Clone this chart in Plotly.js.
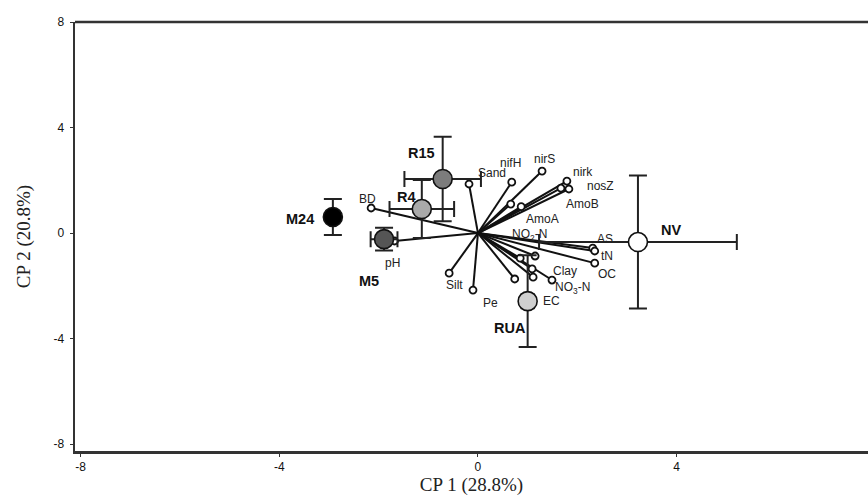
<!DOCTYPE html>
<html>
<head>
<meta charset="utf-8">
<script src="https://cdn.plot.ly/plotly-3.0.1.min.js"></script>
<style>html,body{margin:0;padding:0;background:#fff;}#chart{width:868px;height:497px;}</style>
</head>
<body>
<div id="chart"></div>
<script>
// ---- Sample scores (group means with standard errors) ----
var sampleNames = ["M24", "M5", "R4", "R15", "NV", "RUA"];
var sampleX = [-2.92, -1.89, -1.13, -0.71, 3.22, 1.00];
var sampleY = [0.61, -0.23, 0.91, 2.05, -0.34, -2.58];
var sampleErrX = [0, 0.27, 0.65, 0.77, 1.99, 0.12];
var sampleErrY = [0.68, 0.43, 1.10, 1.60, 2.52, 1.74];
var sampleColors = ["#000000", "#555555", "#a9a9a9", "#7c7c7c", "#ffffff", "#cfcfcf"];
var sampleLabelX = [-3.58, -2.19, -1.43, -1.13, 3.88, 0.64];
var sampleLabelY = [0.53, -1.82, 1.36, 3.03, 0.11, -3.61];

// ---- Variable loadings (vector tips) ----
var vecNames = ["BD", "Sand", "nifH", "nirS", "nirk", "nosZ", "AmoB", "AmoA", "nifH-b",
                "pH", "AS", "tN", "OC", "NO2-N", "v15", "Clay", "EC", "NO3-N", "v19", "Silt", "Pe"];
var vecX = [-2.15, -0.18, 0.68, 1.29, 1.79, 1.83, 1.67, 0.87, 0.66,
            -1.68, 2.31, 2.35, 2.35, 1.15, 0.85, 1.09, 1.11, 1.49, 0.74, -0.58, -0.10];
var vecY = [0.95, 1.86, 1.93, 2.35, 1.97, 1.67, 1.70, 1.00, 1.10,
            -0.30, -0.57, -0.68, -1.14, -0.87, -0.95, -1.36, -1.67, -1.78, -1.74, -1.52, -2.16];

// ---- Variable label texts and their positions ----
var labelText = ["BD", "Sand", "nifH", "nirS", "nirk", "nosZ", "AmoB", "AmoA", "NO<sub>2</sub>-N",
                 "AS", "tN", "OC", "Clay", "NO<sub>3</sub>-N", "EC", "Pe", "Silt", "pH"];
var labelX = [-2.23, 0.28, 0.66, 1.33, 2.11, 2.47, 2.11, 1.29, 1.03,
              2.56, 2.60, 2.60, 1.75, 1.91, 1.47, 0.26, -0.48, -1.71];
var labelY = [1.29, 2.27, 2.65, 2.80, 2.31, 1.78, 1.10, 0.53, -0.06,
              -0.23, -0.87, -1.55, -1.44, -2.08, -2.58, -2.65, -1.97, -1.14];

// ---- Axes ----
var tickVals = [-8, -4, 0, 4, 8];
var tickText = ["-8", "-4", "0", "4", "8"];

var lineX = [], lineY = [];
for (var i = 0; i < vecX.length; i++) {
  lineX.push(0, vecX[i], null);
  lineY.push(0, vecY[i], null);
}

var traces = [
  {
    type: "scatter", mode: "lines", x: lineX, y: lineY,
    line: {color: "#111", width: 2}, hoverinfo: "skip", showlegend: false
  },
  {
    type: "scatter", mode: "markers", x: vecX, y: vecY, text: vecNames,
    marker: {size: 7, color: "#ffffff", line: {color: "#111", width: 1.8}},
    hoverinfo: "text", showlegend: false
  },
  {
    type: "scatter", mode: "markers", x: sampleX, y: sampleY, text: sampleNames,
    marker: {size: 19, color: sampleColors, line: {color: "#111", width: 1.6}},
    error_x: {type: "data", array: sampleErrX, visible: true, color: "#222", thickness: 2, width: 8},
    error_y: {type: "data", array: sampleErrY, visible: true, color: "#222", thickness: 2, width: 9},
    hoverinfo: "text", showlegend: false
  }
];

var annotations = [];
for (var j = 0; j < labelText.length; j++) {
  annotations.push({
    x: labelX[j], y: labelY[j], xref: "x", yref: "y", text: labelText[j],
    showarrow: false, font: {family: "Liberation Sans, Arial, sans-serif", size: 12, color: "#222"}
  });
}
for (var k = 0; k < sampleNames.length; k++) {
  annotations.push({
    x: sampleLabelX[k], y: sampleLabelY[k], xref: "x", yref: "y", text: "<b>" + sampleNames[k] + "</b>",
    showarrow: false, font: {family: "Liberation Sans, Arial, sans-serif", size: 14.5, color: "#111"}
  });
}

var layout = {
  width: 868, height: 497,
  margin: {l: 75, r: 0, t: 22, b: 46},
  paper_bgcolor: "#fff", plot_bgcolor: "#fff",
  showlegend: false,
  xaxis: {
    range: [-8.11, 7.85], tickvals: tickVals, ticktext: tickText,
    showgrid: false, zeroline: false, showline: true, linecolor: "#333", linewidth: 2.5,
    ticks: "outside", ticklen: 3, tickwidth: 1, tickcolor: "#333",
    tickfont: {family: "Liberation Sans, Arial, sans-serif", size: 12, color: "#111"},
    title: {text: "CP 1 (28.8%)", font: {family: "Liberation Serif, Times New Roman, serif", size: 19, color: "#222"}, standoff: 4}
  },
  yaxis: {
    range: [-8.26, 8.0], tickvals: tickVals, ticktext: tickText,
    showgrid: false, zeroline: false, showline: true, linecolor: "#333", linewidth: 2.5,
    ticks: "outside", ticklen: 3, tickwidth: 1, tickcolor: "#333", ticklabelstandoff: 3,
    tickfont: {family: "Liberation Sans, Arial, sans-serif", size: 12, color: "#111"},
    title: {text: "CP 2 (20.8%)", font: {family: "Liberation Serif, Times New Roman, serif", size: 19, color: "#222"}, standoff: 18}
  },
  shapes: [
    {type: "line", xref: "paper", yref: "paper", x0: 0, x1: 1, y0: 1, y1: 1, line: {color: "#333", width: 2.5}}
  ],
  annotations: annotations
};

Plotly.newPlot("chart", traces, layout, {displayModeBar: false, staticPlot: true});
</script>
</body>
</html>
